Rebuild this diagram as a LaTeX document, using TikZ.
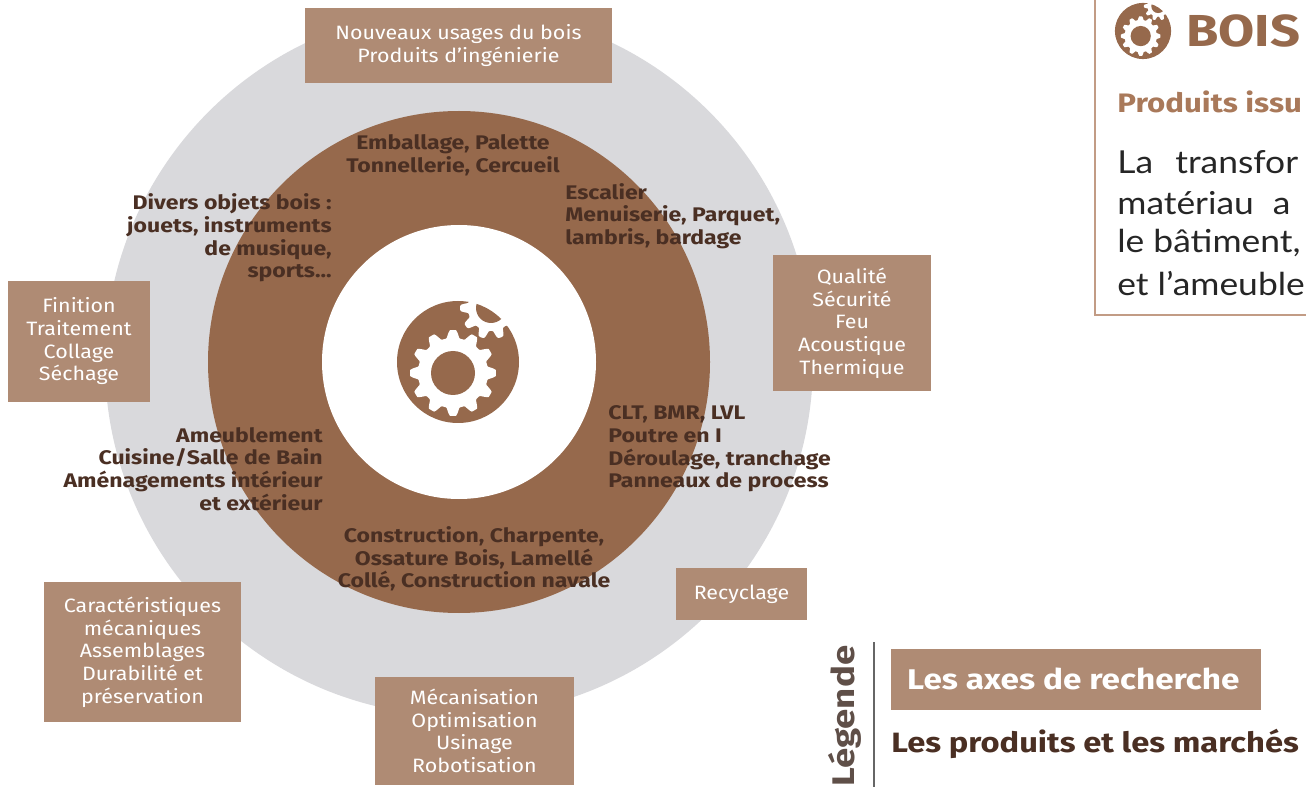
\documentclass[tikz,border=0pt]{standalone}
\usepackage{fontspec}
\setmainfont[FakeStretch=1.11, BoldFeatures={FakeStretch=1.17}]{Fira Sans}
\newfontfamily\panelfont[FakeStretch=1.12]{Lato}
\usepackage{xcolor}
\definecolor{bois-brown}{HTML}{96694C}
\definecolor{bois-box}{HTML}{AF8B74}
\definecolor{bois-grey}{HTML}{D9D9DC}
\definecolor{bois-dark}{HTML}{4A2F23}
\definecolor{bois-line}{HTML}{C29C85}
\definecolor{bois-title}{HTML}{A9795A}
\tikzset{
	axe/.style={fill=bois-box, text=white, align=center, inner sep=0pt, font=\fontsize{11}{12.9}\selectfont},
	produit/.style={text=bois-dark, align=center, inner sep=0pt, font=\fontsize{11.2}{12.9}\selectfont\bfseries},
	panneau/.style={text=black!85, anchor=west, inner sep=0pt, font=\panelfont\fontsize{18}{20}\selectfont},
	cog/.pic={
		\fill[bois-brown] (0,0) circle (61);
		\fill[white, shift={(33,-54)}] plot[smooth cycle, samples=120, domain=0:357] (\x:{27+4*max(-1,min(1,1.6*cos(10*\x)))});
		\begin{scope}
			\clip (0,0) circle (61);
			\fill[bois-brown] (33,-54) circle (15);
		\end{scope}
		\fill[white, shift={(-5,11)}] plot[smooth cycle, samples=180, domain=0:358] (\x:{39+4*max(-1,min(1,1.6*cos(12*\x)))});
		\fill[bois-brown] (-5,11) circle (22);
	}
}
\begin{document}
\begin{tikzpicture}[x=0.02cm, y=-0.02cm]
	\useasboundingbox (0,0) rectangle (1306,787);
	% cercles
	\fill[bois-grey] (459,362) circle (354);
	\fill[bois-brown] (459,362) circle (251);
	\fill[white] (459,362) circle (137);
	\pic at (458,362) {cog};
	% axes de recherche
	\node[axe, minimum width=307*0.02cm, minimum height=75*0.02cm] (nouveaux) at (458.5,45.5) {Nouveaux usages du bois\\Produits d'ingénierie};
	\node[axe, minimum width=158*0.02cm, minimum height=136*0.02cm] (qualite) at (852,323) {Qualité\\Sécurité\\Feu\\Acoustique\\Thermique};
	\node[axe, minimum width=142*0.02cm, minimum height=121*0.02cm] (finition) at (79,341.5) {Finition\\Traitement\\Collage\\Séchage};
	\node[axe, minimum width=131*0.02cm, minimum height=52*0.02cm] (recyclage) at (741.5,594) {Recyclage};
	\node[axe, minimum width=197*0.02cm, minimum height=140*0.02cm] (carac) at (142.5,652) {Caractéristiques\\mécaniques\\Assemblages\\Durabilité et\\préservation};
	\node[axe, minimum width=199*0.02cm, minimum height=108*0.02cm] (meca) at (474.5,731) {Mécanisation\\Optimisation\\Usinage\\Robotisation};
	% produits et marches
	\node[produit] (emballage) at (453,155) {Emballage, Palette\\Tonnellerie, Cercueil};
	\node[produit, align=left, anchor=west] (escalier) at (565,216) {Escalier\\Menuiserie, Parquet,\\lambris, bardage};
	\node[produit, align=right, anchor=east] (divers) at (332,238) {Divers objets bois :\\jouets, instruments\\de musique,\\sports...};
	\node[produit, align=left, anchor=west] (clt) at (608,449) {CLT, BMR, LVL\\Poutre en I\\Déroulage, tranchage\\Panneaux de process};
	\node[produit, align=right, anchor=east] (ameublement) at (323,469) {Ameublement\\Cuisine/Salle de Bain\\Aménagements intérieur\\et extérieur};
	\node[produit] (construction) at (474,559) {Construction, Charpente,\\Ossature Bois, Lamellé\\Collé, Construction navale};
	% legende
	\draw[gray!80!black, line width=0.6pt] (874,642) coordinate (legtop) -- (874,787) coordinate (legbot);
	\node[text=bois-dark!60!gray, rotate=90, anchor=west, inner sep=0pt, font=\fontsize{17.8}{20}\selectfont\bfseries] (legende) at (845,787) {Légende};
	\node[axe, minimum width=370*0.02cm, minimum height=61*0.02cm, font=\fontsize{16.2}{18}\selectfont\bfseries] (legaxe) at (1076,679.5) {\raisebox{1.2pt}{Les axes de recherche}\hspace*{3pt}};
	\node[produit, anchor=west, font=\fontsize{15.9}{18}\selectfont\bfseries] (legproduit) at (891,744) {Les produits et les marchés};
	% encadre
	\draw[bois-line, line width=0.8pt] (1095,0) coordinate (pantop) -- (1095,315) coordinate (pancorner) -- (1306,315) coordinate (panend);
	\pic[scale=0.46] at (1143,31) {cog};
	\node[text=bois-brown, anchor=west, inner sep=0pt, font=\fontsize{25.5}{30}\selectfont\bfseries] (bois) at (1186,31) {BOIS};
	\node[text=bois-title, anchor=west, inner sep=0pt, font=\fontsize{15.2}{18}\selectfont\bfseries] (issus) at (1117,102) {Produits issu};
	\node[panneau] (l1) at (1117,162) {La\hspace{0.7em}transfor};
	\node[panneau] (l2) at (1117,203) {matériau\hspace{0.6em}a};
	\node[panneau] (l3) at (1117,243) {le bâtiment,};
	\node[panneau] (l4) at (1117,284) {et l’ameuble};
\end{tikzpicture}
\end{document}
